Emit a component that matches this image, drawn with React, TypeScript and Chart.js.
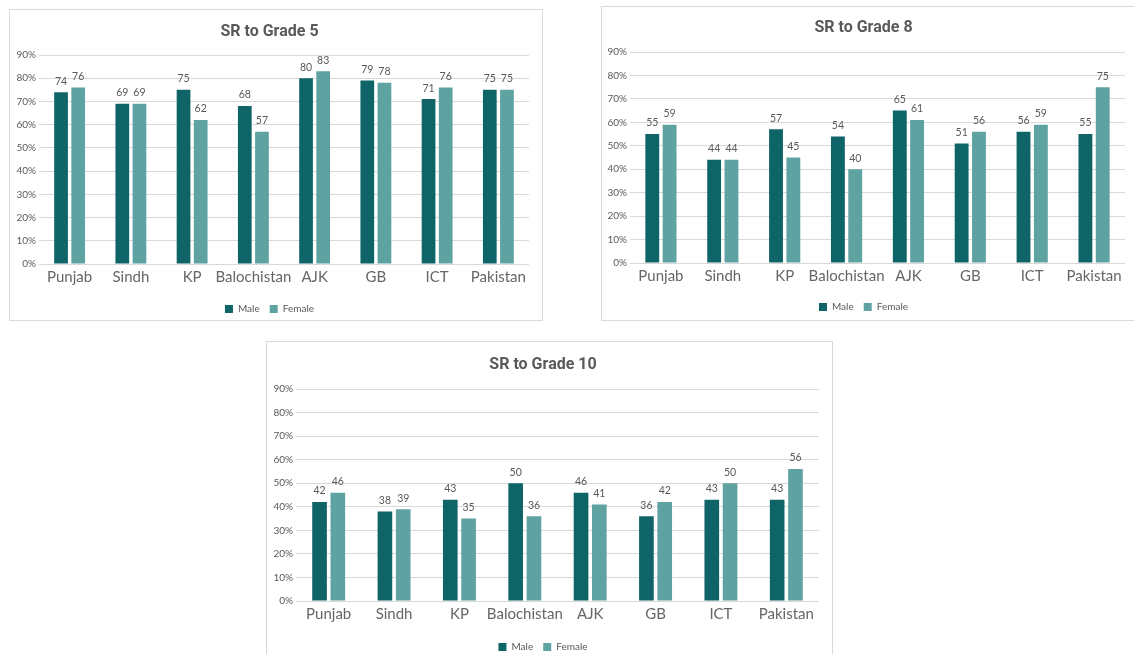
import React, { useEffect, useRef } from "react";
import { Chart, registerables } from "chart.js";

Chart.register(...registerables);

const categories = ["Punjab", "Sindh", "KP", "Balochistan", "AJK", "GB", "ICT", "Pakistan"];
const seriesNames = ["Male", "Female"];

const grade5Male = [74, 69, 75, 68, 80, 79, 71, 75];
const grade5Female = [76, 69, 62, 57, 83, 78, 76, 75];

const grade8Male = [55, 44, 57, 54, 65, 51, 56, 55];
const grade8Female = [59, 44, 45, 40, 61, 56, 59, 75];

const grade10Male = [42, 38, 43, 50, 46, 36, 43, 43];
const grade10Female = [46, 39, 35, 36, 41, 42, 50, 56];

const yMin = 0;
const yMax = 90;
const yStep = 10;

const MALE_COLOR = "#0E6467";
const FEMALE_COLOR = "#5FA2A2";
const TEXT_COLOR = "#595959";
const GRID_COLOR = "#D9D9D9";

const valueLabels = {
  id: "valueLabels",
  afterDatasetsDraw(chart: any) {
    const ctx = chart.ctx;
    ctx.save();
    ctx.font = "10.5px Lato";
    ctx.fillStyle = TEXT_COLOR;
    ctx.textAlign = "center";
    ctx.textBaseline = "middle";
    chart.data.datasets.forEach((ds: any, i: number) => {
      const meta = chart.getDatasetMeta(i);
      meta.data.forEach((el: any, j: number) => {
        ctx.fillText(String(ds.data[j]), el.x, el.y - 11);
      });
    });
    ctx.restore();
  },
};

type PanelProps = {
  title: string;
  male: number[];
  female: number[];
  box: { left: number; top: number; width: number; height: number };
  canvas: { left: number; top: number; width: number; height: number };
  titlePad: { top: number; bottom: number };
  yWidth: number;
  xHeight: number;
  padRight: number;
};

function Panel(props: PanelProps) {
  const ref = useRef<HTMLCanvasElement | null>(null);
  useEffect(() => {
    if (!ref.current) return;
    const chart = new Chart(ref.current, {
      type: "bar",
      data: {
        labels: categories,
        datasets: [
          {
            label: seriesNames[0],
            data: props.male,
            backgroundColor: MALE_COLOR,
            borderWidth: 0,
            categoryPercentage: 0.56,
            barPercentage: 0.8,
          },
          {
            label: seriesNames[1],
            data: props.female,
            backgroundColor: FEMALE_COLOR,
            borderWidth: 0,
            categoryPercentage: 0.56,
            barPercentage: 0.8,
          },
        ],
      },
      options: {
        responsive: false,
        animation: false,
        devicePixelRatio: 1,
        layout: { padding: { left: 0, right: props.padRight, top: 0, bottom: 0 } },
        plugins: {
          title: {
            display: true,
            text: props.title,
            color: TEXT_COLOR,
            font: { family: "Roboto", size: 16, weight: "bold", lineHeight: 1.2 },
            padding: { top: props.titlePad.top, bottom: props.titlePad.bottom },
          },
          legend: {
            display: true,
            position: "bottom",
            labels: {
              color: TEXT_COLOR,
              font: { family: "Lato", size: 10 },
              boxWidth: 8,
              boxHeight: 8,
              padding: 10,
            },
          },
          tooltip: { enabled: false },
        },
        scales: {
          x: {
            afterFit: (s: any) => {
              s.height = props.xHeight;
            },
            grid: { display: false, drawTicks: false },
            border: { display: false },
            ticks: {
              autoSkip: false,
              maxRotation: 0,
              minRotation: 0,
              color: "#666666",
              font: { family: "Lato", size: 15 },
              padding: 4,
            },
          },
          y: {
            min: yMin,
            max: yMax,
            afterFit: (s: any) => {
              s.width = props.yWidth;
            },
            grid: { color: GRID_COLOR, lineWidth: 1, drawTicks: false },
            border: { display: false },
            ticks: {
              stepSize: yStep,
              color: TEXT_COLOR,
              font: { family: "Lato", size: 10 },
              padding: 3,
              callback: (v: any) => v + "%",
            },
          },
        },
      },
      plugins: [valueLabels],
    });
    return () => chart.destroy();
  }, []);

  return (
    <>
      <div
        style={{
          position: "fixed",
          left: props.box.left,
          top: props.box.top,
          width: props.box.width,
          height: props.box.height,
          border: "1px solid #D9D9D9",
          boxSizing: "border-box",
          background: "#fff",
        }}
      />
      <canvas
        ref={ref}
        width={props.canvas.width}
        height={props.canvas.height}
        style={{
          position: "fixed",
          left: props.canvas.left,
          top: props.canvas.top,
          width: props.canvas.width,
          height: props.canvas.height,
        }}
      />
    </>
  );
}

export default function App() {
  return (
    <div style={{ position: "fixed", left: 0, top: 0, width: 1134, height: 654, background: "#fff", overflow: "hidden" }}>
      <Panel
        title="SR to Grade 5"
        male={grade5Male}
        female={grade5Female}
        box={{ left: 9, top: 9, width: 534, height: 312 }}
        canvas={{ left: 10, top: 10, width: 532, height: 314 }}
        titlePad={{ top: 12.4, bottom: 13.4 }}
        yWidth={29}
        xHeight={30}
        padRight={13}
      />
      <Panel
        title="SR to Grade 8"
        male={grade8Male}
        female={grade8Female}
        box={{ left: 601, top: 6, width: 540, height: 315 }}
        canvas={{ left: 602, top: 7, width: 533, height: 315 }}
        titlePad={{ top: 11.4, bottom: 14.4 }}
        yWidth={28}
        xHeight={29}
        padRight={10}
      />
      <Panel
        title="SR to Grade 10"
        male={grade10Male}
        female={grade10Female}
        box={{ left: 266, top: 341, width: 567, height: 330 }}
        canvas={{ left: 267, top: 342, width: 565, height: 320 }}
        titlePad={{ top: 13.4, bottom: 14.4 }}
        yWidth={29}
        xHeight={31}
        padRight={13}
      />
    </div>
  );
}
